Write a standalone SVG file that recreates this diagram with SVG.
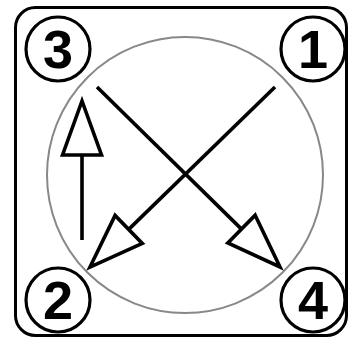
<svg xmlns="http://www.w3.org/2000/svg" width="351" height="340" viewBox="0 0 351 340">
<style>
.badge circle{fill:#fff;stroke:#000;stroke-width:3.2}
.badge text{font-family:"Liberation Sans",Arial,sans-serif;font-weight:bold;font-size:54px;text-anchor:middle;fill:#000}
.conn{stroke:#000;stroke-width:3.6;fill:none}
</style>
<defs>
<marker id="open" markerUnits="userSpaceOnUse" orient="auto" refX="0" refY="0" markerWidth="60" markerHeight="44" overflow="visible">
<path d="M0,-19.5 L54,0 L0,19.5 Z" fill="#fff" stroke="#000" stroke-width="3.6" stroke-linejoin="miter"/>
</marker>
</defs>
<rect width="351" height="340" fill="#fff"/>
<g id="frame">
<rect x="15.5" y="7.5" width="331" height="328" rx="20" fill="none" stroke="#000" stroke-width="3"/>
<circle cx="185" cy="175" r="138" fill="none" stroke="#888" stroke-width="2"/>
</g>
<g id="connectors">
<line class="conn" x1="97" y1="87" x2="241.5" y2="229.1" marker-end="url(#open)"/>
<line class="conn" x1="275" y1="87" x2="128.7" y2="229.4" marker-end="url(#open)"/>
<line class="conn" x1="82" y1="240" x2="82" y2="155" marker-end="url(#open)"/>
</g>
<g id="n3" class="badge"><circle cx="58" cy="49" r="32"/><text x="58" y="68">3</text></g>
<g id="n1" class="badge"><circle cx="313" cy="49" r="32"/><text x="313" y="68">1</text></g>
<g id="n2" class="badge"><circle cx="58" cy="300" r="32"/><text x="58" y="319">2</text></g>
<g id="n4" class="badge"><circle cx="313" cy="300" r="32"/><text x="313" y="319">4</text></g>
</svg>
